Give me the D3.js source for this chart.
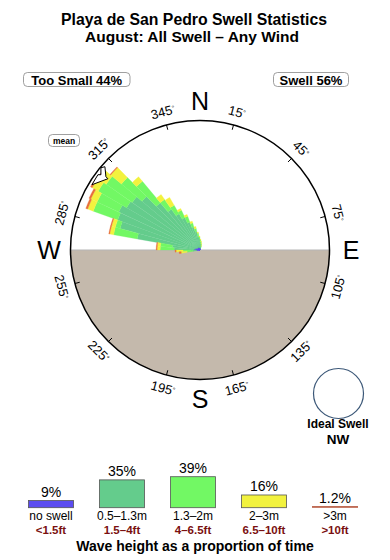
<!DOCTYPE html>
<html>
<head>
<meta charset="utf-8">
<script src="https://cdn.jsdelivr.net/npm/d3@7/dist/d3.min.js"></script>
<style>
  body { margin: 0; background: #fff; }
  text { font-family: "Liberation Sans", Arial, sans-serif; }
</style>
</head>
<body>
<div id="chart"></div>
<script>
// direction bins (start of each 5 degree bin) and stacked share per wave class
var dirs     = [260,265,270,275,280,285,290,295,300,305,310,315,320,325,330,335,340,345,350,355,0,5,10,15];
var noSwell  = [0.3,0.4,0.6,0.6,0.5,0.5,0.4,0.4,0.3,0.3,0.3,0.3,0.3,0.3,0.3,0.3,0.3,0.3,0.2,0.2,0.2,0.2,0.2,0.1];
var small    = [0.4,0.5,2.0,2.2,5.9,7.8,8.4,8.6,8.2,8.0,7.3,5.9,4.7,3.9,3.3,2.7,2.1,1.6,1.2,0.9,0.6,0.4,0.3,0.2];
var medium   = [0.6,0.8,1.4,1.2,2.4,0.5,2.6,2.4,3.3,3.2,2.7,2.8,1.2,1.0,0.8,0.6,0.4,0.3,0.3,0.2,0.2,0.2,0.1,0.1];
var large    = [0.6,0.7,0.3,0.3,0.4,0.4,0.6,0.7,0.7,0.9,1.4,0.6,0.6,0.9,0.2,0.2,0.2,0.2,0.1,0.1,0.1,0.1,0.1,0.1];
var huge     = [0.2,0.1,0.1,0.1,0.1,0.1,0.2,0.2,0.2,0.2,0.1,0,0,0,0,0,0,0,0,0,0,0,0,0];
var binWidth = 5;
var meanDir = 305;

// legend
var classes   = ["noSwell","small","medium","large","huge"];
var classPct  = [9, 35, 39, 16, 1.2];
var pctLabels = ["9%","35%","39%","16%","1.2%"];
var mLabels   = ["no swell","0.5\u20131.3m","1.3\u20132m","2\u20133m",">3m"];
var ftLabels  = ["<1.5ft","1.5\u20134ft","4\u20136.5ft","6.5\u201310ft",">10ft"];
var colors    = ["#5b4cf0","#64cc8c","#72f864","#f2f23e","#b0482c"];

var tickDegs  = [15,45,75,105,135,165,195,225,255,285,315,345];
var cardinals = [{t:"N",a:0},{t:"E",a:90},{t:"S",a:180},{t:"W",a:270}];

var title1 = "Playa de San Pedro Swell Statistics";
var title2 = "August: All Swell \u2013 Any Wind";
var tooSmall = "Too Small 44%", swellTxt = "Swell 56%";

var width = 390, height = 560;
var cx = 200, cy = 250, R = 129.5;

var svg = d3.select("#chart").append("svg")
    .attr("width", width)
    .attr("height", height);

// titles
svg.append("text").attr("x", 194).attr("y", 24.5).attr("text-anchor","middle")
  .style("font-size","15.8px").style("font-weight","bold").text(title1);
svg.append("text").attr("x", 192).attr("y", 42).attr("text-anchor","middle")
  .style("font-size","15.5px").style("font-weight","bold").text(title2);

// boxes top
function box(x, w, txt) {
  svg.append("rect").attr("x", x).attr("y", 72.5).attr("width", w).attr("height", 14)
    .attr("rx", 4).style("fill","#fff").style("stroke","#888").style("stroke-width",0.8);
  svg.append("text").attr("x", x + w/2).attr("y", 84.5).attr("text-anchor","middle")
    .style("font-size","13px").style("font-weight","bold").text(txt);
}
box(23.5, 106.5, tooSmall);
box(273.5, 75, swellTxt);

var rose = svg.append("g").attr("transform", "translate(" + cx + "," + cy + ")");

var rScale = d3.scaleLinear().domain([0, 13]).range([0, R]);
var toRad = function(d) { return d * Math.PI / 180; };

// land (lower half)
rose.append("path")
  .attr("d", d3.arc()({innerRadius: 0, outerRadius: R, startAngle: Math.PI/2, endAngle: Math.PI*1.5}))
  .style("fill", "#c4b9ac");
rose.append("line").attr("x1", -R).attr("x2", R).attr("y1", 0).attr("y2", 0)
  .style("stroke", "#b5b5b5").style("stroke-width", 1);

// stacked wedges
var table = dirs.map(function(d, i) {
  return {dir: d, noSwell: noSwell[i], small: small[i], medium: medium[i], large: large[i], huge: huge[i]};
});
var series = d3.stack().keys(classes)(table);
var arc = d3.arc()
  .innerRadius(function(d) { return rScale(d[0]); })
  .outerRadius(function(d) { return rScale(d[1]); })
  .startAngle(function(d) { return toRad(d.data.dir); })
  .endAngle(function(d) { return toRad(d.data.dir + binWidth); });

rose.selectAll("g.layer")
  .data(series)
  .enter().append("g")
    .attr("class", "layer")
    .style("fill", function(d, i) { return i == 4 ? "#e8703a" : colors[i]; })
  .selectAll("path")
  .data(function(d) { return d.filter(function(e) { return e[1] > e[0]; }); })
  .enter().append("path")
    .attr("d", arc)
    .style("stroke", function() { return d3.select(this.parentNode).style("fill"); })
    .style("stroke-width", 0.3);

// outer circle
rose.append("circle").attr("r", R).style("fill","none").style("stroke","#000").style("stroke-width",1.5);

// ticks and degree labels
tickDegs.forEach(function(a) {
  var s = Math.sin(toRad(a)), c = -Math.cos(toRad(a));
  rose.append("line")
    .attr("x1", s * (R - 5)).attr("y1", c * (R - 5))
    .attr("x2", s * R).attr("y2", c * R)
    .style("stroke","#000").style("stroke-width",1);
  var rot = a > 90 && a < 270 ? a - 180 : (a > 180 ? a - 360 : a);
  var t = rose.append("text")
    .attr("transform", "translate(" + (s * 143) + "," + (c * 143) + ") rotate(" + rot + ")")
    .attr("text-anchor", "middle").attr("dy", "0.35em")
    .style("font-size", "13px");
  t.append("tspan").text(a);
  t.append("tspan").attr("dy", "-0.45em").style("font-size","7px").text("\u00b0");
});

cardinals.forEach(function(d) {
  var s = Math.sin(toRad(d.a)), c = -Math.cos(toRad(d.a));
  var rr = d.a % 180 == 0 ? 149 : 151;
  rose.append("text")
    .attr("x", s * rr).attr("y", c * rr).attr("dy", "0.36em")
    .attr("text-anchor", "middle")
    .style("font-size", "25px").text(d.t);
});

// mean arrow at rim
var ma = toRad(meanDir);
var mx = Math.sin(ma) * R, my = -Math.cos(ma) * R;
var arrowPts = [[7,-8],[11,-9],[12,1],[14,3],[-2,9],[4,-1],[7,-1]];
rose.append("path")
  .attr("d", d3.line()(arrowPts.map(function(p) { return [mx + p[0], my + p[1]]; })) + "Z")
  .style("fill","#fff").style("stroke","#000").style("stroke-width",1);

// mean label
svg.append("rect").attr("x", 48.5).attr("y", 134.5).attr("width", 31).attr("height", 12)
  .attr("rx", 4).style("fill","#fff").style("stroke","#888").style("stroke-width",0.8);
svg.append("text").attr("x", 64).attr("y", 143.5).attr("text-anchor","middle")
  .style("font-size","8.5px").style("font-weight","bold").text("mean");

// ideal swell
svg.append("circle").attr("cx", 338.5).attr("cy", 393.5).attr("r", 25)
  .style("fill","#fff").style("stroke","#3c5878").style("stroke-width",1.2);
svg.append("text").attr("x", 338).attr("y", 428).attr("text-anchor","middle")
  .style("font-size","12px").style("font-weight","bold").text("Ideal Swell");
svg.append("text").attr("x", 338).attr("y", 444).attr("text-anchor","middle")
  .style("font-size","13.5px").style("font-weight","bold").text("NW");

// legend bars
var xL = d3.scalePoint().domain(classes).range([51, 335]);
var hL = d3.scaleLinear().domain([0, 39]).range([0, 31]);
var base = 507.7;

var leg = svg.append("g");
classes.forEach(function(k, i) {
  var x = xL(k), h = Math.max(hL(classPct[i]), 1);
  if (k == "huge") {
    leg.append("rect").attr("x", x - 23).attr("y", base - 1.5).attr("width", 46).attr("height", 1.5)
      .style("fill", colors[i]);
  } else {
    leg.append("rect").attr("x", x - 22.5).attr("y", base - h).attr("width", 45).attr("height", h)
      .style("fill", colors[i]).style("stroke", "#555").style("stroke-width", 0.8);
  }
  leg.append("text").attr("x", x).attr("y", base - h - 4).attr("text-anchor","middle")
    .style("font-size","14px").text(pctLabels[i]);
  leg.append("text").attr("x", x).attr("y", 520).attr("text-anchor","middle")
    .style("font-size","12px").text(mLabels[i]);
  leg.append("text").attr("x", x).attr("y", 534).attr("text-anchor","middle")
    .style("font-size","11.5px").style("font-weight","bold").style("fill","#7a1010").text(ftLabels[i]);
});

svg.append("text").attr("x", 195).attr("y", 550.5).attr("text-anchor","middle")
  .style("font-size","14px").style("font-weight","bold").text("Wave height as a proportion of time");
</script>
</body>
</html>
